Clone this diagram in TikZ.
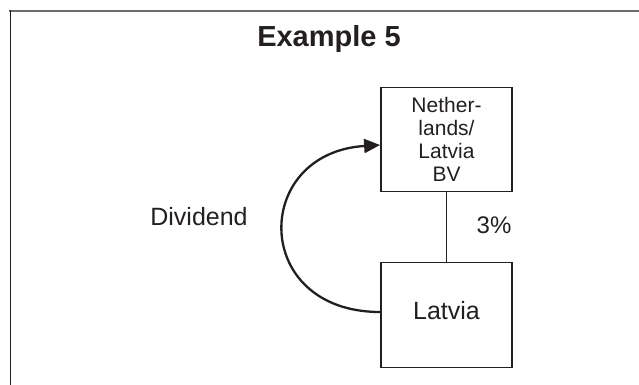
\documentclass[tikz,border=0pt]{standalone}
\usepackage{fontspec}
\setmainfont{Liberation Sans}
\definecolor{framegray}{RGB}{108,108,108}
\definecolor{inkblack}{RGB}{35,31,32}
\usetikzlibrary{arrows.meta,positioning}

\begin{document}
\begin{tikzpicture}[x=1pt,y=-1pt,
  entitybox/.style={draw=inkblack, line width=1.8pt, minimum width=131pt, align=center, inner sep=0pt, text=inkblack},
  flowarrow/.style={-{Triangle[length=16pt,width=14pt]}, line width=2.3pt, inkblack},
  plainlabel/.style={anchor=base, text=inkblack}]
  \useasboundingbox (0,0) rectangle (639,385);

  % Frame
  \draw[framegray, line width=2.2pt] (9.4,11) -- (640,11);
  \draw[inkblack, line width=1.5pt] (10.4,10) -- (10.4,386);

  % Title
  \node[plainlabel, font=\fontsize{29}{33}\selectfont\bfseries] (title) at (329,47) {Example 5};

  % Companies
  \node[entitybox, minimum height=104pt, font=\fontsize{21}{23}\selectfont] (holding) at (446.5,139.5) {Nether-\\lands/\\Latvia\\BV};
  \node[entitybox, minimum height=105pt, font=\fontsize{25}{30}\selectfont, text depth=10pt] (latvia) at (446.5,315) {Latvia};

  % Shareholding
  \draw[inkblack, line width=1.6pt] (holding) -- (latvia);
  \node[plainlabel, font=\fontsize{24}{28}\selectfont] (pct) at (494,233) {3\%};

  % Dividend flow
  \draw[flowarrow] ([yshift=3pt]latvia.west) .. controls +(-129,0) and +(-129,8) .. ([yshift=-5.5pt]holding.west);
  \node[plainlabel, font=\fontsize{25}{30}\selectfont] (dividend) at (199,225.7) {Dividend};
\end{tikzpicture}
\end{document}
